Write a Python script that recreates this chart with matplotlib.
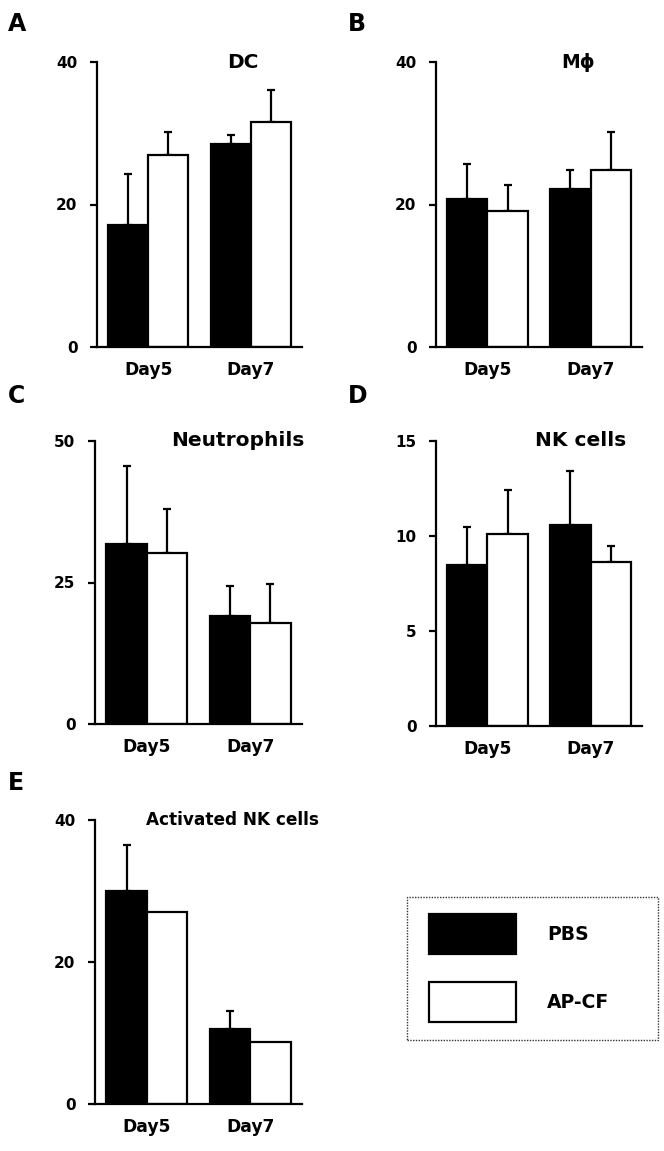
"""Immune cell counts at Day5 / Day7, PBS vs AP-CF (panels A-E)."""
import matplotlib
matplotlib.use("Agg")
import matplotlib.pyplot as plt
from matplotlib.patches import Patch, Rectangle

plt.rcParams["font.family"] = ["DejaVu Sans"]
plt.rcParams["font.weight"] = "bold"

#####################################################
# DATA
#####################################################
days = ["Day5", "Day7"]
groups = ["PBS", "AP-CF"]

dc_pbs = [17.1, 28.5]
dc_pbs_err = [7.2, 1.2]
dc_apcf = [27.0, 31.6]
dc_apcf_err = [3.2, 4.5]

mphi_pbs = [20.8, 22.2]
mphi_pbs_err = [4.9, 2.6]
mphi_apcf = [19.1, 24.9]
mphi_apcf_err = [3.6, 5.3]

neut_pbs = [31.8, 19.0]
neut_pbs_err = [13.8, 5.4]
neut_apcf = [30.2, 17.8]
neut_apcf_err = [7.8, 6.9]

nk_pbs = [8.5, 10.6]
nk_pbs_err = [2.0, 2.8]
nk_apcf = [10.1, 8.65]
nk_apcf_err = [2.3, 0.8]

actnk_pbs = [30.0, 10.5]
actnk_pbs_err = [6.5, 2.6]
actnk_apcf = [27.0, 8.7]
actnk_apcf_err = [0.0, 0.0]

#####################################################
# LAYOUT (pixel boxes: left, right, top, bottom)
#####################################################
W, H = 664, 1151
panels = [
    dict(box=(97, 302, 62, 347), title="DC", tx=0.71, tsize=14.5, ymax=40, ticks=[0, 20, 40],
         pbs=dc_pbs, pbs_err=dc_pbs_err, apcf=dc_apcf, apcf_err=dc_apcf_err),
    dict(box=(436, 642, 62, 347), title="M\u03d5", tx=0.69, tsize=13.5, ymax=40, ticks=[0, 20, 40],
         pbs=mphi_pbs, pbs_err=mphi_pbs_err, apcf=mphi_apcf, apcf_err=mphi_apcf_err),
    dict(box=(95, 302, 441, 724), title="Neutrophils", tx=0.69, tsize=14.5, ymax=50, ticks=[0, 25, 50],
         pbs=neut_pbs, pbs_err=neut_pbs_err, apcf=neut_apcf, apcf_err=neut_apcf_err),
    dict(box=(436, 642, 441, 726), title="NK cells", tx=0.70, tsize=14.5, ymax=15, ticks=[0, 5, 10, 15],
         pbs=nk_pbs, pbs_err=nk_pbs_err, apcf=nk_apcf, apcf_err=nk_apcf_err),
    dict(box=(95, 302, 820, 1104), title="Activated NK cells", tx=0.665, tsize=12.2, ymax=40, ticks=[0, 20, 40],
         pbs=actnk_pbs, pbs_err=actnk_pbs_err, apcf=actnk_apcf, apcf_err=actnk_apcf_err),
]
letters = [("A", 8, 12), ("B", 348, 12), ("C", 8, 384), ("D", 348, 384), ("E", 8, 771)]

bar_w = 0.39
lw = 1.6

fig = plt.figure(figsize=(W / 100, H / 100), dpi=100)

for p in panels:
    l, r, t, b = p["box"]
    ax = fig.add_axes([l / W, 1 - b / H, (r - l) / W, (b - t) / H])
    x = list(range(len(days)))
    xp = [i - bar_w / 2 for i in x]
    xa = [i + bar_w / 2 for i in x]

    ax.bar(xp, p["pbs"], width=bar_w, color="black", edgecolor="black", linewidth=lw, zorder=2)
    ax.bar(xa, p["apcf"], width=bar_w, color="white", edgecolor="black", linewidth=lw, zorder=2)
    for xs, ys, es in [(xp, p["pbs"], p["pbs_err"]), (xa, p["apcf"], p["apcf_err"])]:
        keep = [i for i, e in enumerate(es) if e > 0]
        if keep:
            ax.errorbar([xs[i] for i in keep], [ys[i] for i in keep],
                        yerr=[[0] * len(keep), [es[i] for i in keep]],
                        fmt="none", ecolor="black", elinewidth=lw, capsize=3,
                        capthick=lw, zorder=1)

    ax.set_xlim(-0.5, 1.5)
    ax.set_ylim(0, p["ymax"])
    ax.set_yticks(p["ticks"])
    ax.set_xticks(x)
    ax.set_xticklabels(days)
    ax.tick_params(axis="x", length=0, pad=10, labelsize=12.3)
    ax.tick_params(axis="y", length=5, width=lw, direction="out", pad=9, labelsize=11)
    for lab in ax.get_xticklabels() + ax.get_yticklabels():
        lab.set_fontweight("bold")
    ax.spines["top"].set_visible(False)
    ax.spines["right"].set_visible(False)
    ax.spines["left"].set_linewidth(lw)
    ax.spines["bottom"].set_linewidth(lw)
    ax.patch.set_visible(False)
    ax.text(p["tx"], 1.0, p["title"], transform=ax.transAxes, ha="center", va="center",
            fontsize=p["tsize"], fontweight="bold")

for letter, lx, ly in letters:
    fig.text(lx / W, 1 - ly / H, letter, ha="left", va="top", fontsize=17, fontweight="bold")

# legend with a dotted box around it
handles = [Patch(facecolor="black", edgecolor="black", linewidth=lw, label=groups[0]),
           Patch(facecolor="white", edgecolor="black", linewidth=lw, label=groups[1])]
fig.patches.append(Rectangle((407 / W, 1 - 1040 / H), (658 - 407) / W, (1040 - 897) / H,
                             transform=fig.transFigure, fill=False, linestyle=(0, (1, 1)),
                             linewidth=1.0, edgecolor="#333333"))
fsz = 13.5
em = fsz * 100 / 72
leg = fig.legend(handles=handles, loc="upper left",
                 bbox_to_anchor=(412 / W, 1 - 897 / H), frameon=False,
                 prop=dict(size=fsz, weight="bold"), handlelength=87 / em,
                 handleheight=(40 / em - 0.245) / 0.65, handletextpad=31 / em,
                 labelspacing=28 / em, borderpad=17 / em, borderaxespad=0)

fig.savefig("out.png", dpi=100)
